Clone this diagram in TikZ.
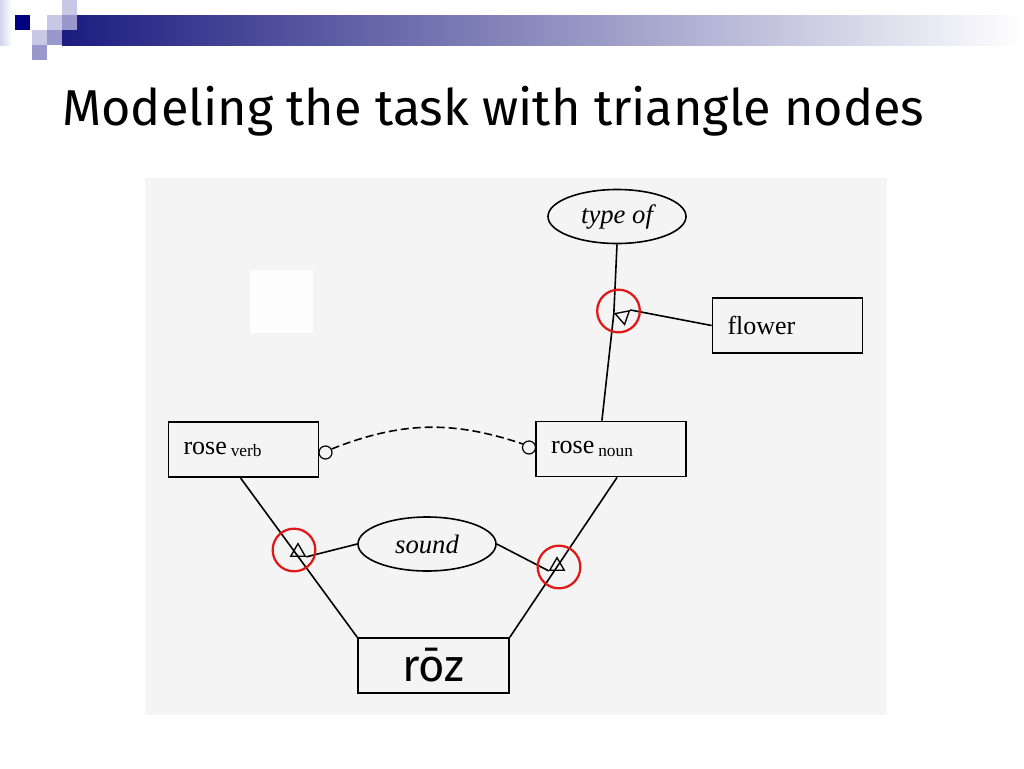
\documentclass[tikz,border=0pt]{standalone}
\usepackage{fontspec}
\setmainfont{Liberation Serif}
\newfontfamily\titlefont{Fira Sans}
\usetikzlibrary{shapes.geometric,calc}
\definecolor{navy}{HTML}{000080}
\definecolor{barblue}{HTML}{1C1C80}
\definecolor{lightsq}{HTML}{C8C8E6}
\definecolor{midsq}{HTML}{9898CC}
\definecolor{paper}{HTML}{F4F4F4}
\definecolor{patch}{HTML}{FDFDFD}
\definecolor{hired}{HTML}{E01818}
\tikzset{
  box/.style={draw, line width=1.3pt, minimum height=41.25pt, inner xsep=11.25pt,
    text width=90pt, align=left, font=\fontsize{19.5}{20}\selectfont},
  rozbox/.style={draw, line width=1.3pt, minimum height=41.25pt, minimum width=113.25pt,
    inner sep=0pt, font=\titlefont\fontsize{34}{34}\selectfont},
  oval/.style={ellipse, draw, line width=1.2pt, minimum width=103.5pt, minimum height=40.5pt,
    inner sep=0pt, font=\itshape\fontsize{20}{20}\selectfont},
  tri/.style={regular polygon, regular polygon sides=3, draw, line width=1pt,
    minimum size=12.5pt, inner sep=0pt},
  hl/.style={circle, draw=hired, line width=1.7pt, minimum size=32pt, inner sep=0pt},
  port/.style={circle, draw, line width=0.9pt, minimum size=9.75pt, inner sep=0pt},
  link/.style={line width=1.2pt},
  dlink/.style={line width=1.2pt, dash pattern=on 6pt off 3pt}
}
\newcommand{\subtxt}[1]{\hspace{3pt}\raisebox{-2pt}{\fontsize{13}{13}\selectfont #1}}
\begin{document}
\begin{tikzpicture}[x=0.75pt, y=-0.75pt]
\useasboundingbox (0,0) rectangle (1024,768);
\fill[white] (0,0) rectangle (1024,768);
% header decoration
\shade[left color=lightsq!80, right color=white] (0,0) rectangle (12,45);
\shade[left color=barblue, right color=white] (62,15) rectangle (1024,45);
\fill[lightsq] (62,0) rectangle (77,15);
\fill[lightsq] (47,15) rectangle (62,30);
\fill[midsq] (62,15) rectangle (77,30);
\fill[lightsq] (32,30) rectangle (47,45);
\fill[midsq] (47,30) rectangle (62,45);
\fill[midsq] (32,45) rectangle (47,60);
\fill[navy] (15,15) rectangle (30,30);
% title
\node[anchor=base west, inner sep=0pt, font=\titlefont\fontsize{37.8}{38}\selectfont] (title) at (62,125) {Modeling the task with triangle nodes};
% paper
\fill[paper] (145,178) rectangle (887,715);
\fill[patch] (250,270) rectangle (313,333);
% nodes
\node[oval] (typeof) at (617,216.5) {type of};
\node[box] (flower) at (787.5,325.5) {flower};
\node[box] (roseverb) at (243.5,449.5) {rose\subtxt{verb}};
\node[box] (rosenoun) at (611,449) {rose\subtxt{noun}};
\node[oval] (sound) at (427,544) {sound};
\node[rozbox] (roz) at (433.5,665.5) {rōz};
\node[tri, rotate=-169] (tri1) at (623,316.3) {};
\node[tri] (tri2) at (298,552) {};
\node[tri] (tri3) at (557,566) {};
\node[port] (pl) at (325.5,452.5) {};
\node[port] (pr) at (529,447.5) {};
% connectors
\draw[link] (typeof.south) -- (tri1.corner 3);
\draw[link] (flower.west) -- (tri1.corner 2);
\draw[link] ($(rosenoun.north west)!0.44!(rosenoun.north east)$) -- (tri1.corner 3);
\draw[link] ($(roseverb.south west)!0.48!(roseverb.south east)$) -- (roz.north west);
\draw[link] ($(rosenoun.south west)!0.54!(rosenoun.south east)$) -- (roz.north east);
\draw[link] (sound.west) -- (tri2.corner 3);
\draw[link] (sound.east) -- (tri3.corner 2);
\draw[dlink] (pl.30) to[bend left=20] (pr.150);
% highlights
\node[hl] (h1) at (618.5,311) {};
\node[hl] (h2) at (294,550) {};
\node[hl] (h3) at (559,567) {};
\end{tikzpicture}
\end{document}
